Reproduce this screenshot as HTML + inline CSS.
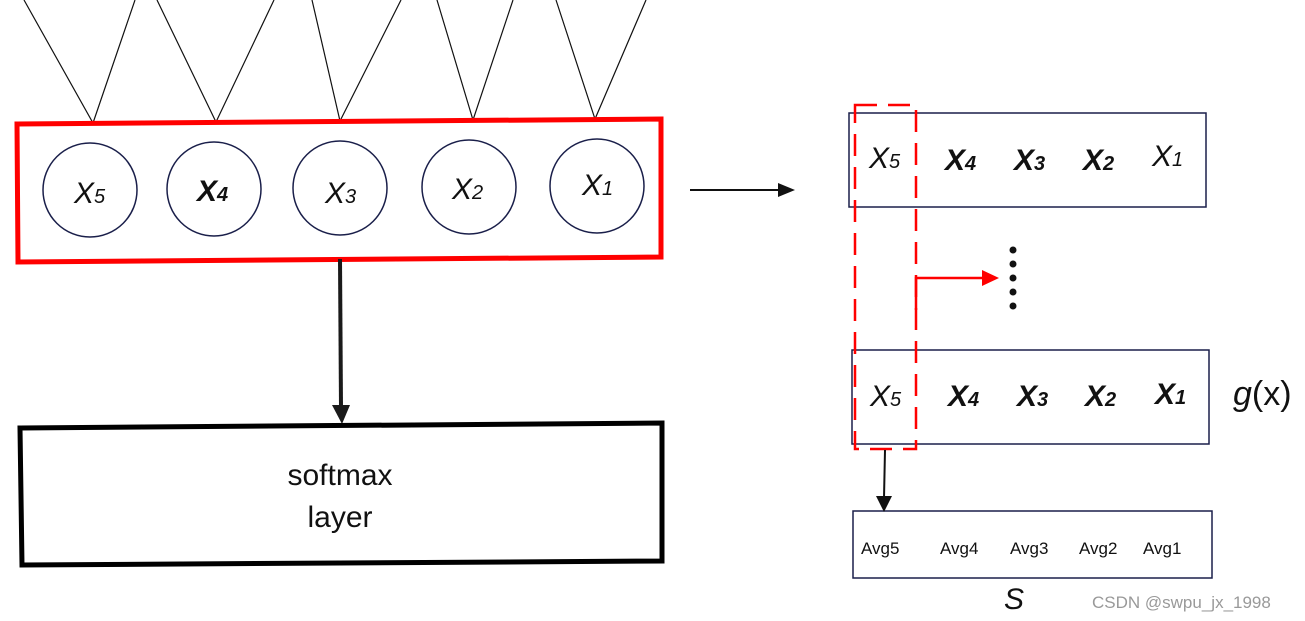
<!DOCTYPE html>
<html><head><meta charset="utf-8"><style>
html,body{margin:0;padding:0;background:#fff;}
svg{display:block;}
text{font-family:"Liberation Sans",sans-serif;}
.xi{font-style:italic;font-size:30px;fill:#111;}
.xb{font-style:italic;font-weight:bold;font-size:30px;fill:#111;}
.sub{font-size:20px;}
.avg{font-size:17px;fill:#111;}
</style></head><body>
<svg width="1305" height="621" viewBox="0 0 1305 621" xmlns="http://www.w3.org/2000/svg">
<defs>
<marker id="ab" markerWidth="10" markerHeight="10" refX="5" refY="9" orient="auto" markerUnits="userSpaceOnUse" viewBox="0 0 10 10"></marker>
</defs>
<!-- top lines -->
<g stroke="#111" stroke-width="1.2" fill="none">
<polyline points="24,0 93,123 135,0"/>
<polyline points="157,0 216,122 274,0"/>
<polyline points="312,0 340,121 401,0"/>
<polyline points="437,0 473,120 513,0"/>
<polyline points="556,0 595,119 646,0"/>
</g>
<!-- red box -->
<polygon points="17,124 661,119 661,257 18,262" fill="none" stroke="#f00" stroke-width="5"/>
<!-- circles -->
<g fill="#fff" stroke="#1a1f4a" stroke-width="1.5">
<ellipse cx="90" cy="190" rx="47" ry="47"/>
<ellipse cx="214" cy="189" rx="47" ry="47"/>
<ellipse cx="340" cy="188" rx="47" ry="47"/>
<ellipse cx="469" cy="187" rx="47" ry="47"/>
<ellipse cx="597" cy="186" rx="47" ry="47"/>
</g>
<text class="xi" x="74" y="203">X<tspan class="sub">5</tspan></text>
<text class="xb" x="197" y="201">X<tspan class="sub">4</tspan></text>
<text class="xi" x="325" y="203">X<tspan class="sub">3</tspan></text>
<text class="xi" x="452" y="199">X<tspan class="sub">2</tspan></text>
<text class="xi" x="582" y="195">X<tspan class="sub">1</tspan></text>
<!-- down arrow -->
<line x1="340" y1="259" x2="341" y2="408" stroke="#1a1a1a" stroke-width="4"/>
<polygon points="332,405 350,405 342,424" fill="#1a1a1a"/>
<!-- softmax box -->
<polygon points="20,428 662,423 662,561 22,565" fill="none" stroke="#000" stroke-width="5"/>
<text x="340" y="485" text-anchor="middle" font-size="30" fill="#111">softmax</text>
<text x="340" y="527" text-anchor="middle" font-size="30" fill="#111">layer</text>
<!-- right arrow -->
<line x1="690" y1="190" x2="780" y2="190" stroke="#111" stroke-width="2"/>
<polygon points="778,183 795,190 778,197" fill="#111"/>
<!-- right boxes -->
<rect x="849" y="113" width="357" height="94" fill="none" stroke="#1a1f4a" stroke-width="1.5"/>
<rect x="852" y="350" width="357" height="94" fill="none" stroke="#1a1f4a" stroke-width="1.5"/>
<rect x="853" y="511" width="359" height="67" fill="none" stroke="#1a1f4a" stroke-width="1.5"/>
<text class="xi" x="869" y="168">X<tspan class="sub">5</tspan></text>
<text class="xb" x="945" y="170">X<tspan class="sub">4</tspan></text>
<text class="xb" x="1014" y="170">X<tspan class="sub">3</tspan></text>
<text class="xb" x="1083" y="170">X<tspan class="sub">2</tspan></text>
<text class="xi" x="1152" y="166">X<tspan class="sub">1</tspan></text>
<text class="xi" x="870" y="406">X<tspan class="sub">5</tspan></text>
<text class="xb" x="948" y="406">X<tspan class="sub">4</tspan></text>
<text class="xb" x="1017" y="406">X<tspan class="sub">3</tspan></text>
<text class="xb" x="1085" y="406">X<tspan class="sub">2</tspan></text>
<text class="xb" x="1155" y="404">X<tspan class="sub">1</tspan></text>
<text class="avg" x="861" y="554">Avg5</text>
<text class="avg" x="940" y="554">Avg4</text>
<text class="avg" x="1010" y="554">Avg3</text>
<text class="avg" x="1079" y="554">Avg2</text>
<text class="avg" x="1143" y="554">Avg1</text>
<!-- red dashed -->
<rect x="855" y="105" width="61" height="344" fill="none" stroke="#f00" stroke-width="2.5" stroke-dasharray="22,11"/>
<polyline points="916,310 916,278 985,278" fill="none" stroke="#f00" stroke-width="2.5"/>
<polygon points="982,270 999,278 982,286" fill="#f00"/>
<g fill="#111">
<circle cx="1013" cy="250" r="3.5"/><circle cx="1013" cy="264" r="3.5"/><circle cx="1013" cy="278" r="3.5"/><circle cx="1013" cy="292" r="3.5"/><circle cx="1013" cy="306" r="3.5"/>
</g>
<!-- black small arrow -->
<line x1="885" y1="450" x2="884" y2="498" stroke="#111" stroke-width="2"/>
<polygon points="876,496 892,496 884,512" fill="#111"/>
<text x="1233" y="405" font-size="34" fill="#111"><tspan font-style="italic">g</tspan>(x)</text>
<text x="1004" y="609" font-size="30" font-style="italic" fill="#111">S</text>
<text x="1092" y="608" font-size="17" fill="#999">CSDN @swpu_jx_1998</text>
</svg>
</body></html>
